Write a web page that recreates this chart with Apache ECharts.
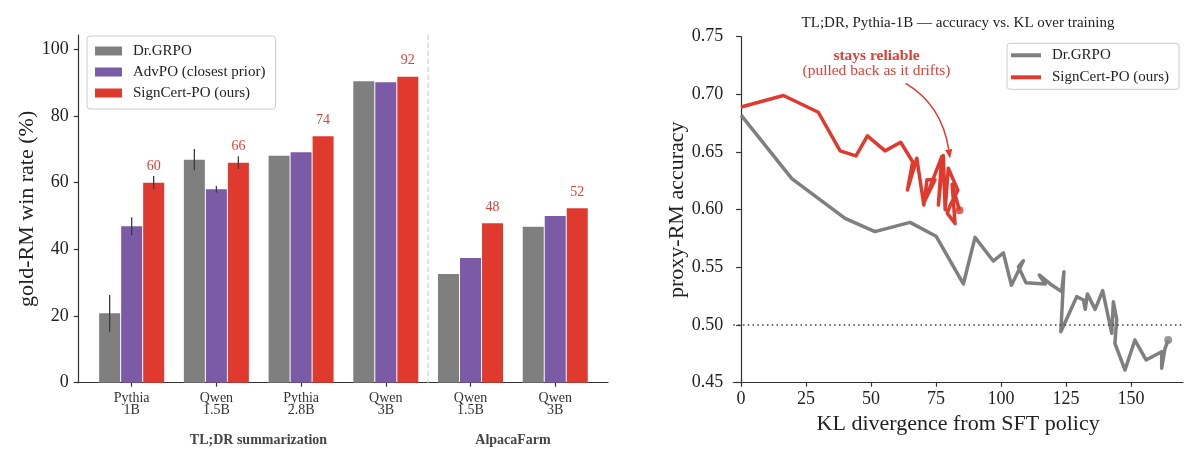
<!DOCTYPE html>
<html><head><meta charset="utf-8">
<script src="https://cdn.jsdelivr.net/npm/echarts@6/dist/echarts.min.js"></script>
<style>html,body{margin:0;padding:0;background:#fff}#c{width:1200px;height:467px}</style>
</head><body><div id="c"></div>
<script>
// ---------- data ----------
const categories = ['Pythia 1B','Qwen 1.5B','Pythia 2.8B','Qwen 3B','AlpacaFarm Qwen 1.5B','AlpacaFarm Qwen 3B'];
const tickLabels = ['Pythia\n1B','Qwen\n1.5B','Pythia\n2.8B','Qwen\n3B','Qwen\n1.5B','Qwen\n3B'];
const groupLabels = ['TL;DR summarization','AlpacaFarm'];
const groupSizes = [4, 2];
const seriesNames = ['Dr.GRPO','AdvPO (closest prior)','SignCert-PO (ours)'];
const drgrpoWin   = [20.8, 66.9, 68.1, 90.4, 32.6, 46.8];
const drgrpoErr   = [5.5, 3.2, null, null, null, null];
const advpoWin    = [46.9, 58.0, 69.1, 90.1, 37.4, 50.0];
const advpoErr    = [2.7, 1.0, null, null, null, null];
const signcertWin = [60.0, 66.0, 73.9, 91.8, 47.8, 52.3];
const signcertErr = [2.0, 1.9, null, null, null, null];
const winTicks = [0, 20, 40, 60, 80, 100];

const curveNames = ['Dr.GRPO','SignCert-PO (ours)'];
const klTicks  = [0, 25, 50, 75, 100, 125, 150];
const accTicks = [0.45, 0.50, 0.55, 0.60, 0.65, 0.70, 0.75];
const chanceLevel = 0.5;
const drgrpoCurve = [
  [0,0.682],[19.5,0.627],[40,0.5925],[51.5,0.581],[65,0.589],[75,0.577],[85.5,0.5356],
  [90,0.576],[97,0.5555],[100.9,0.5625],[104,0.5345],[108.6,0.5558],[106.7,0.5506],
  [109.6,0.5367],[117,0.5356],[114.7,0.5434],[119.5,0.5347],[123.3,0.529],[124.2,0.5462],
  [123,0.4942],[129.1,0.5246],[131.7,0.5217],[132.4,0.5136],[133.2,0.527],[136.2,0.5136],
  [139.1,0.5298],[142.6,0.4928],[143.2,0.5202],[144.5,0.505],[143.8,0.4842],[147.7,0.461],
  [151.5,0.487],[155.8,0.4697],[161.8,0.4769],[161.8,0.4625],[163.1,0.4798],[164.3,0.487]
];
const signcertCurve = [
  [0,0.689],[16.3,0.699],[29.7,0.6845],[38.1,0.651],[44.2,0.6466],[48.6,0.664],[55.4,0.651],
  [61.4,0.6585],[66,0.6416],[64,0.617],[67.6,0.6446],[70.3,0.604],[71.5,0.626],[74.6,0.626],
  [70.5,0.607],[77.2,0.646],[75.9,0.604],[77.8,0.647],[78.5,0.600],[79.7,0.636],[83.4,0.617],
  [80.5,0.604],[79.3,0.597],[82.3,0.588],[81.2,0.622],[84,0.5995]
];

// ---------- styles ----------
const FONT = '"Liberation Serif", "DejaVu Serif", serif';
const GRAY = '#7f7f7f', PURPLE = '#7b5aa6', RED = '#e03a2f', TXTRED = '#dd4038';
const AX = {color:'#333', width:1.2};

const chart = echarts.init(document.getElementById('c'), null, {renderer:'canvas'});

function errSeries(vals, errs, offset) {
  return {
    type:'custom', xAxisIndex:1, yAxisIndex:1, z:5, silent:true,
    data: categories.map((c,i)=>[i, vals[i], errs[i] == null ? NaN : errs[i]]),
    encode:{x:0, y:1},
    renderItem(params, api){
      const i = api.value(0), v = api.value(1), e = api.value(2);
      if (isNaN(e)) return null;
      const a = api.coord([i, v + e]), b = api.coord([i, v - e]);
      const x = a[0] + offset;
      return {type:'line', shape:{x1:x, y1:a[1], x2:x, y2:b[1]}, style:{stroke:'#3a3a3a', lineWidth:1.3}};
    }
  };
}

// separator between the two benchmark groups: between last index of group 0 and first of group 1
const splitPairs = [[groupSizes[0]-1, groupSizes[0], 0]];

const option = {
  animation:false,
  backgroundColor:'#fff',
  textStyle:{fontFamily:FONT},
  grid:[
    {left:78.7, top:35, width:529.3, height:347.7},
    {left:89.3, top:35, width:508.3, height:347.7},
    {left:733.3, top:36.7, width:449.7, height:346}
  ],
  xAxis:[
    {gridIndex:0, type:'value', min:0, max:1, axisLine:{show:true, lineStyle:AX},
     axisTick:{show:false}, axisLabel:{show:false}, splitLine:{show:false}},
    {gridIndex:1, type:'category', data:categories,
     axisLine:{show:false},
     axisTick:{show:true, alignWithLabel:true, length:4, lineStyle:AX},
     axisLabel:{formatter:(v,i)=>tickLabels[i], fontSize:14, lineHeight:12, margin:10, color:'#333', fontFamily:FONT},
     splitLine:{show:false}},
    {gridIndex:2, type:'value', min:-3, max:170,
     axisLine:{show:true, lineStyle:AX},
     axisTick:{show:true, length:4, customValues:klTicks, lineStyle:AX},
     axisLabel:{customValues:klTicks, fontSize:18, margin:8, color:'#222', fontFamily:FONT},
     splitLine:{show:false},
     name:'KL divergence from SFT policy', nameLocation:'middle', nameGap:31,
     nameTextStyle:{fontSize:22, color:'#222', fontFamily:FONT}}
  ],
  yAxis:[
    {gridIndex:0, type:'value', min:0, max:104.3,
     axisLine:{show:true, lineStyle:AX},
     axisTick:{show:true, length:5, customValues:winTicks, lineStyle:AX},
     axisLabel:{customValues:winTicks, fontSize:18, margin:10, color:'#222', fontFamily:FONT},
     splitLine:{show:false},
     name:'gold-RM win rate (%)', nameLocation:'middle', nameGap:39,
     nameTextStyle:{fontSize:22, color:'#222', fontFamily:FONT}},
    {gridIndex:1, type:'value', min:0, max:104.3, show:false, splitLine:{show:false}},
    {gridIndex:2, type:'value', min:0.45, max:0.75,
     axisLine:{show:true, lineStyle:AX},
     axisTick:{show:true, length:5, customValues:accTicks, lineStyle:AX},
     axisLabel:{customValues:accTicks, formatter:v=>(+v).toFixed(2), fontSize:18, margin:10, color:'#222', fontFamily:FONT},
     splitLine:{show:false},
     name:'proxy-RM accuracy', nameLocation:'middle', nameGap:44,
     nameTextStyle:{fontSize:22, color:'#222', fontFamily:FONT}}
  ],
  legend:[
    {data:seriesNames, orient:'vertical', left:87, top:36, icon:'rect', itemWidth:27, itemHeight:9, itemGap:5,
     padding:[7,10,8,8], borderColor:'#cccccc', borderWidth:1, borderRadius:3, backgroundColor:'rgba(255,255,255,0.85)',
     textStyle:{fontSize:15, lineHeight:16, color:'#222', fontFamily:FONT, padding:[0,0,0,6]}},
    {data:curveNames.map(n=>({name:n})), orient:'vertical', left:1007, top:43.3, icon:'rect', itemWidth:30, itemHeight:4, itemGap:6,
     padding:[4,10,4,4], borderColor:'#cccccc', borderWidth:1, borderRadius:3, backgroundColor:'rgba(255,255,255,0.85)',
     textStyle:{fontSize:15, lineHeight:16, color:'#222', fontFamily:FONT, padding:[0,0,0,6]}}
  ],
  series:[
    {name:'separator', type:'custom', xAxisIndex:1, yAxisIndex:1, z:1, silent:true,
     data:splitPairs, encode:{x:[0,1], y:2},
     renderItem(params, api){
       const a = api.coord([api.value(0), 0]), b = api.coord([api.value(1), 0]);
       const x = (a[0] + b[0]) / 2, cs = params.coordSys;
       return {type:'line', shape:{x1:x, y1:cs.y, x2:x, y2:cs.y + cs.height},
               style:{stroke:'#cfcfcf', lineWidth:1.2, lineDash:[5,3]}};
     }},
    {name:seriesNames[0], type:'bar', xAxisIndex:1, yAxisIndex:1, data:drgrpoWin, barWidth:21, barGap:'4.8%', itemStyle:{color:GRAY}},
    {name:seriesNames[1], type:'bar', xAxisIndex:1, yAxisIndex:1, data:advpoWin, barWidth:21, barGap:'4.8%', itemStyle:{color:PURPLE}},
    {name:seriesNames[2], type:'bar', xAxisIndex:1, yAxisIndex:1, data:signcertWin, barWidth:21, barGap:'4.8%', itemStyle:{color:RED},
     label:{show:true, position:'top', distance:9, formatter:p=>Math.round(p.value), fontSize:14, color:TXTRED, fontFamily:FONT}},
    errSeries(drgrpoWin, drgrpoErr, -22),
    errSeries(advpoWin, advpoErr, 0),
    errSeries(signcertWin, signcertErr, 22),
    {name:curveNames[0], type:'line', xAxisIndex:2, yAxisIndex:2, data:drgrpoCurve, showSymbol:false, symbol:'none',
     lineStyle:{color:GRAY, width:3.5, join:'round'}, itemStyle:{color:GRAY}, z:3,
     markLine:{silent:true, symbol:'none', label:{show:false}, data:[{yAxis:chanceLevel}],
       lineStyle:{color:'#444', width:1.6, type:[1.6,3.2]}}},
    {name:curveNames[1], type:'line', xAxisIndex:2, yAxisIndex:2, data:signcertCurve, showSymbol:false, symbol:'none',
     lineStyle:{color:RED, width:3.5, join:'round'}, itemStyle:{color:RED}, z:4},
    {name:'end-gray', type:'scatter', xAxisIndex:2, yAxisIndex:2, data:[drgrpoCurve[drgrpoCurve.length-1]], symbolSize:8, itemStyle:{color:GRAY}, z:5},
    {name:'end-red', type:'scatter', xAxisIndex:2, yAxisIndex:2, data:[signcertCurve[signcertCurve.length-1]], symbolSize:8, itemStyle:{color:RED}, z:5}
  ],
  graphic:[
    {type:'text', x:258.5, y:440.7, style:{text:groupLabels[0], font:'bold 14px '+FONT, fill:'#444', align:'center', verticalAlign:'middle'}},
    {type:'text', x:513, y:440.7, style:{text:groupLabels[1], font:'bold 14px '+FONT, fill:'#444', align:'center', verticalAlign:'middle'}},
    {type:'text', x:958, y:22.7, style:{text:'TL;DR, Pythia-1B \u2014 accuracy vs. KL over training', font:'15px '+FONT, fill:'#222', align:'center', verticalAlign:'middle'}},
    {type:'text', x:876.5, y:55.7, style:{text:'stays reliable', font:'bold 15.5px '+FONT, fill:TXTRED, align:'center', verticalAlign:'middle'}},
    {type:'text', x:876.5, y:71, style:{text:'(pulled back as it drifts)', font:'15.5px '+FONT, fill:TXTRED, align:'center', verticalAlign:'middle'}},
    {type:'bezierCurve', shape:{x1:905.7, y1:83.3, cpx1:942, cpy1:105, x2:948.7, y2:149.6}, style:{stroke:RED, lineWidth:1.5, fill:null}},
    {type:'polygon', shape:{points:[[950,158.5],[952.3,149.1],[945.1,150.1]]}, style:{fill:RED}}
  ]
};
chart.setOption(option);
</script></body></html>
